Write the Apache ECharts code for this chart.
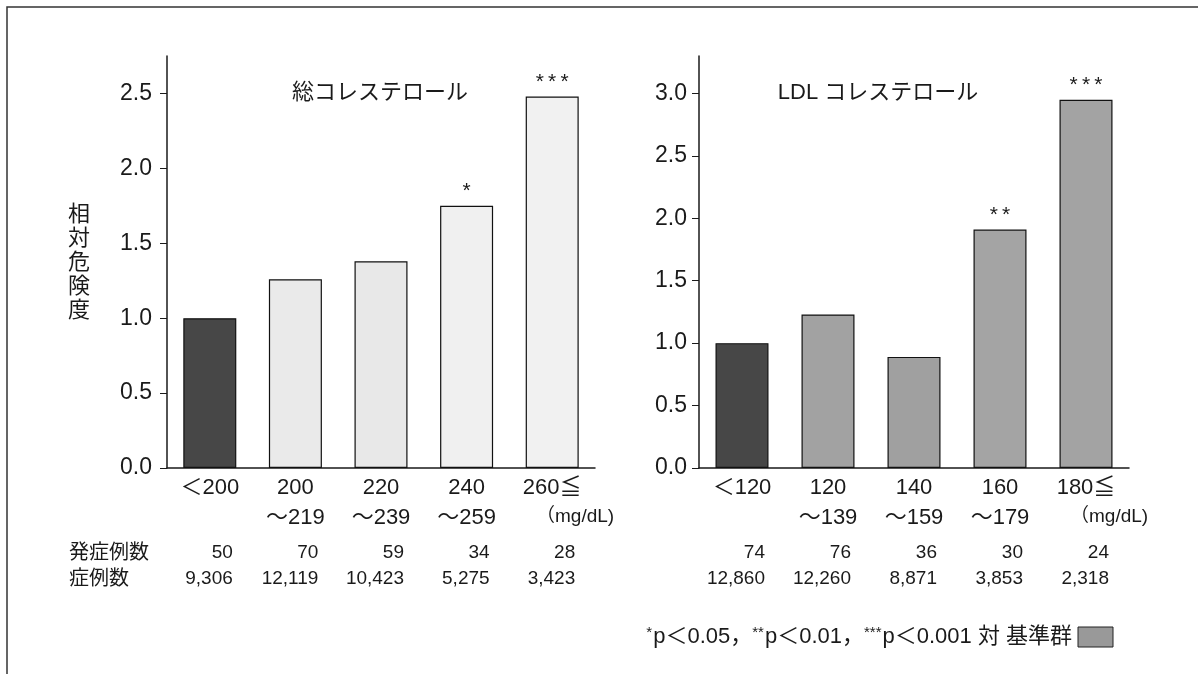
<!DOCTYPE html>
<html><head><meta charset="utf-8">
<script src="https://cdn.jsdelivr.net/npm/echarts@6/dist/echarts.min.js"></script>
<style>html,body{margin:0;padding:0;background:#fff}#c{width:1198px;height:674px}</style>
</head><body><div id="c"></div>
<script>
const catsTC = ['＜200', '200\n～219', '220\n～239', '240\n～259', '260≦'];
const valsTC = [1.0, 1.26, 1.38, 1.75, 2.48];
const starsTC = ['', '', '', '*', '*\u2009*\u2009*'];
const casesTC = ['50', '70', '59', '34', '28'];
const totalTC = ['9,306', '12,119', '10,423', '5,275', '3,423'];
const ticksTC = [0, 0.5, 1.0, 1.5, 2.0, 2.5];

const catsLDL = ['＜120', '120\n～139', '140\n～159', '160\n～179', '180≦'];
const valsLDL = [1.0, 1.23, 0.89, 1.91, 2.95];
const starsLDL = ['', '', '', '*\u2009*', '*\u2009*\u2009*'];
const casesLDL = ['74', '76', '36', '30', '24'];
const totalLDL = ['12,860', '12,260', '8,871', '3,853', '2,318'];
const ticksLDL = [0, 0.5, 1.0, 1.5, 2.0, 2.5, 3.0];

const rowNames = ['発症例数', '症例数'];
const titles = ['総コレステロール', 'LDL コレステロール'];
const yName = '相対危険度';
const unit = '（mg/dL)';

const FONT = "'Liberation Sans', 'Noto Sans CJK JP', sans-serif";
const INK = '#1a1a1a';
const fillTC = ['#474747', '#eaeaea', '#e8e8e8', '#f0f0f0', '#f1f1f1'];
const fillLDL = ['#474747', '#a2a2a2', '#a0a0a0', '#a4a4a4', '#a3a3a3'];

const chart = echarts.init(document.getElementById('c'), null, {renderer: 'canvas'});

function xAxis(idx, cats) {
  return {
    type: 'category', gridIndex: idx, data: cats, boundaryGap: true,
    axisLine: {lineStyle: {color: INK, width: 1.5}},
    axisTick: {show: false},
    axisLabel: {color: INK, fontFamily: FONT, fontSize: 22, lineHeight: 30, margin: 5, interval: 0}
  };
}
function yAxis(idx, max, ticks, margin) {
  return {
    type: 'value', gridIndex: idx, min: 0, max: max,
    splitLine: {show: false},
    axisLine: {show: true, lineStyle: {color: INK, width: 1.5}},
    axisTick: {show: true, length: 7, lineStyle: {color: INK}, customValues: ticks},
    axisLabel: {color: INK, fontFamily: FONT, fontSize: 23, margin: margin,
      customValues: ticks, formatter: v => v.toFixed(1)}
  };
}
function bars(idx, vals, fills, stars) {
  return {
    type: 'bar', xAxisIndex: idx, yAxisIndex: idx, barWidth: 53,
    data: vals.map((v, i) => ({value: v, itemStyle: {color: fills[i]}})),
    itemStyle: {borderColor: '#111', borderWidth: 1.2},
    label: {show: true, position: 'top', distance: 4, color: INK, fontFamily: FONT, fontSize: 21,
      formatter: p => stars[p.dataIndex]},
    emphasis: {disabled: true}, animation: false
  };
}

chart.setOption({
  backgroundColor: '#fff',
  animation: false,
  grid: [
    {left: 167, top: 56, width: 428, height: 412},
    {left: 699, top: 56, width: 430, height: 412}
  ],
  xAxis: [xAxis(0, catsTC), xAxis(1, catsLDL)],
  yAxis: [yAxis(0, 2.75, ticksTC, 15), yAxis(1, 3.3, ticksLDL, 12)],
  series: [bars(0, valsTC, fillTC, starsTC), bars(1, valsLDL, fillLDL, starsLDL)]
});

const txt = (x, y, text, opt) => ({type: 'text', x: x, y: y, silent: true,
  style: Object.assign({text: text, fill: INK, font: '18px ' + FONT, textAlign: 'left', textVerticalAlign: 'middle'}, opt || {})});

const g = [];
g.push({type: 'polyline', silent: true, shape: {points: [[7, 674], [7, 7], [1198, 7]]}, style: {stroke: '#333', lineWidth: 1.5, fill: null}});
g.push(txt(380, 93, titles[0], {font: '22px ' + FONT, textAlign: 'center'}));
g.push(txt(878, 93, titles[1], {font: '22px ' + FONT, textAlign: 'center'}));
g.push(txt(79, 263, yName.split('').join('\n'), {font: '22px ' + FONT, textAlign: 'center', lineHeight: 24}));
g.push(txt(536, 517, unit, {font: '19px ' + FONT}));
g.push(txt(1070, 517, unit, {font: '19px ' + FONT}));
g.push(txt(69, 553, rowNames[0], {font: '20px ' + FONT}));
g.push(txt(69, 579, rowNames[1], {font: '20px ' + FONT}));

function table(idx, cats, r1, r2) {
  cats.forEach((c, i) => {
    const x = chart.convertToPixel({xAxisIndex: idx}, i) + 23;
    g.push(txt(x, 553, r1[i], {font: '19px ' + FONT, textAlign: 'right'}));
    g.push(txt(x, 579, r2[i], {font: '19px ' + FONT, textAlign: 'right'}));
  });
}
table(0, catsTC, casesTC, totalTC);
table(1, catsLDL, casesLDL, totalLDL);

g.push({type: 'text', x: 1072, y: 637, silent: true, style: {
  text: '{s|*}p＜0.05，{s|**}p＜0.01，{s|***}p＜0.001 対 基準群',
  textAlign: 'right', textVerticalAlign: 'middle', fill: INK, font: '22px ' + FONT,
  rich: {s: {fontSize: 15, fontFamily: 'Liberation Sans', verticalAlign: 'top', padding: [0, 1, 9, 0], fill: INK}}
}});
g.push({type: 'rect', silent: true, shape: {x: 1078, y: 627, width: 35, height: 20}, style: {fill: '#999999', stroke: '#222', lineWidth: 1}});

chart.setOption({graphic: g});
</script></body></html>
